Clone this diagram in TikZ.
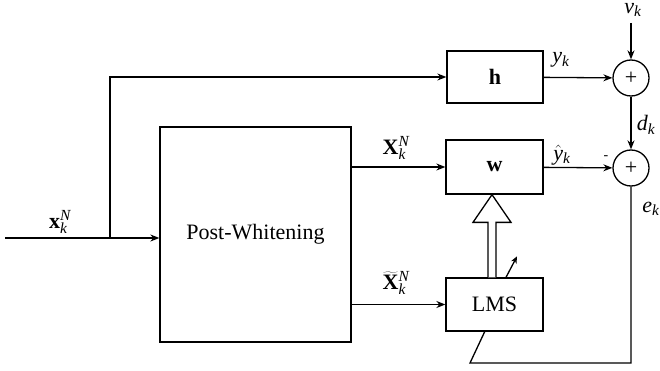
\documentclass[tikz,border=0pt]{standalone}
\usepackage{fontspec}
\setmainfont{Liberation Serif}
\usetikzlibrary{arrows.meta,calc}
\newcommand{\vi}[1]{\mathit{#1}}
\begin{document}
\begin{tikzpicture}[x=1pt,y=-1pt,
  every node/.style={font=\fontsize{22}{26}\selectfont},
  blk/.style={draw,line width=1.3pt,rectangle,inner sep=0pt},
  sumn/.style={draw,line width=1.3pt,circle,minimum size=36pt,inner sep=0pt},
  conn/.style={line width=1.3pt},
  arr/.style={line width=1.3pt,-{Stealth[length=9pt,width=7pt]}},
  lbl/.style={inner sep=0pt}]
\useasboundingbox (0,0) rectangle (660,371);
\fill[white] (0,0) rectangle (660,371);
% blocks
\node[blk,minimum width=191pt,minimum height=215pt] (pw) at (255.5,234.5) {Post-Whitening};
\node[blk,minimum width=96pt,minimum height=52pt] (h) at (495,77) {$\mathbf{h}$};
\node[blk,minimum width=97pt,minimum height=54pt] (w) at (494.5,167) {$\mathbf{w}$};
\node[blk,minimum width=97pt,minimum height=53pt] (lms) at (494.5,304.5) {LMS};
\node[sumn] (s1) at (631,78) {\fontsize{22}{22}\selectfont +};
\node[sumn] (s2) at (631,168) {\fontsize{22}{22}\selectfont +};
% coordinates
\coordinate (in) at (5,238);
\coordinate (br) at (110,238);
\coordinate (vin) at (631,23);
\coordinate (fb1) at (631,363);
\coordinate (fb2) at (470,363);
\coordinate (fb3) at (485,331);
% connectors
\draw[arr] (in) -- (in -| pw.west);
\draw[arr] (br) |- (h.west);
\draw[arr] (h) -- (s1);
\draw[arr] (vin) -- (s1);
\draw[arr] (s1) -- (s2);
\draw[arr] (pw.east |- w) -- (w);
\draw[arr] (pw.east |- lms) -- (lms);
\draw[arr] (w) -- (s2);
\draw[conn] (s2) -- (fb1) -- (fb2) -- (fb3);
% hollow arrow LMS -> w
\draw[conn,fill=white,line join=miter] ($(lms.north)+(-6.5,0)$) -- ++(0,-55) -- ++(-15,0)
  -- ($(w.south)+(-2.5,0)$) -- ($(lms.north)+(16.5,-55)$) -- ++(-15,0) -- ($(lms.north)+(1.5,0)$);
% small adaptation arrow
\draw[line width=1.3pt,-{Stealth[length=7pt,width=6pt]}] ($(lms.north)+(11.5,0)$) -- ++(11,-21);
% labels
\node[lbl] (lx) at (60,222) {$\mathbf{x}_{\vi{k}}^{\vi{N}}$};
\node[lbl] (lX) at (396,148) {$\mathbf{X}_{\vi{k}}^{\vi{N}}$};
\node[lbl] (lXt) at (396,283) {$\widetilde{\mathbf{X}}_{\vi{k}}^{\vi{N}}$};
\node[lbl] (ly) at (561,60) {$\vi{y}_{\vi{k}}$};
\node[lbl] (lyh) at (562,155) {$\hat{\vi{y}}_{\vi{k}}$};
\node[lbl,anchor=north] (lv) at (633,3) {$\vi{v}_{\vi{k}}$};
\node[lbl] (ld) at (646,125) {$\vi{d}_{\vi{k}}$};
\node[lbl] (le) at (651,209) {$\vi{e}_{\vi{k}}$};
\node[lbl,font=\fontsize{14}{14}\selectfont] (lm) at (606,158) {-};
\end{tikzpicture}
\end{document}
